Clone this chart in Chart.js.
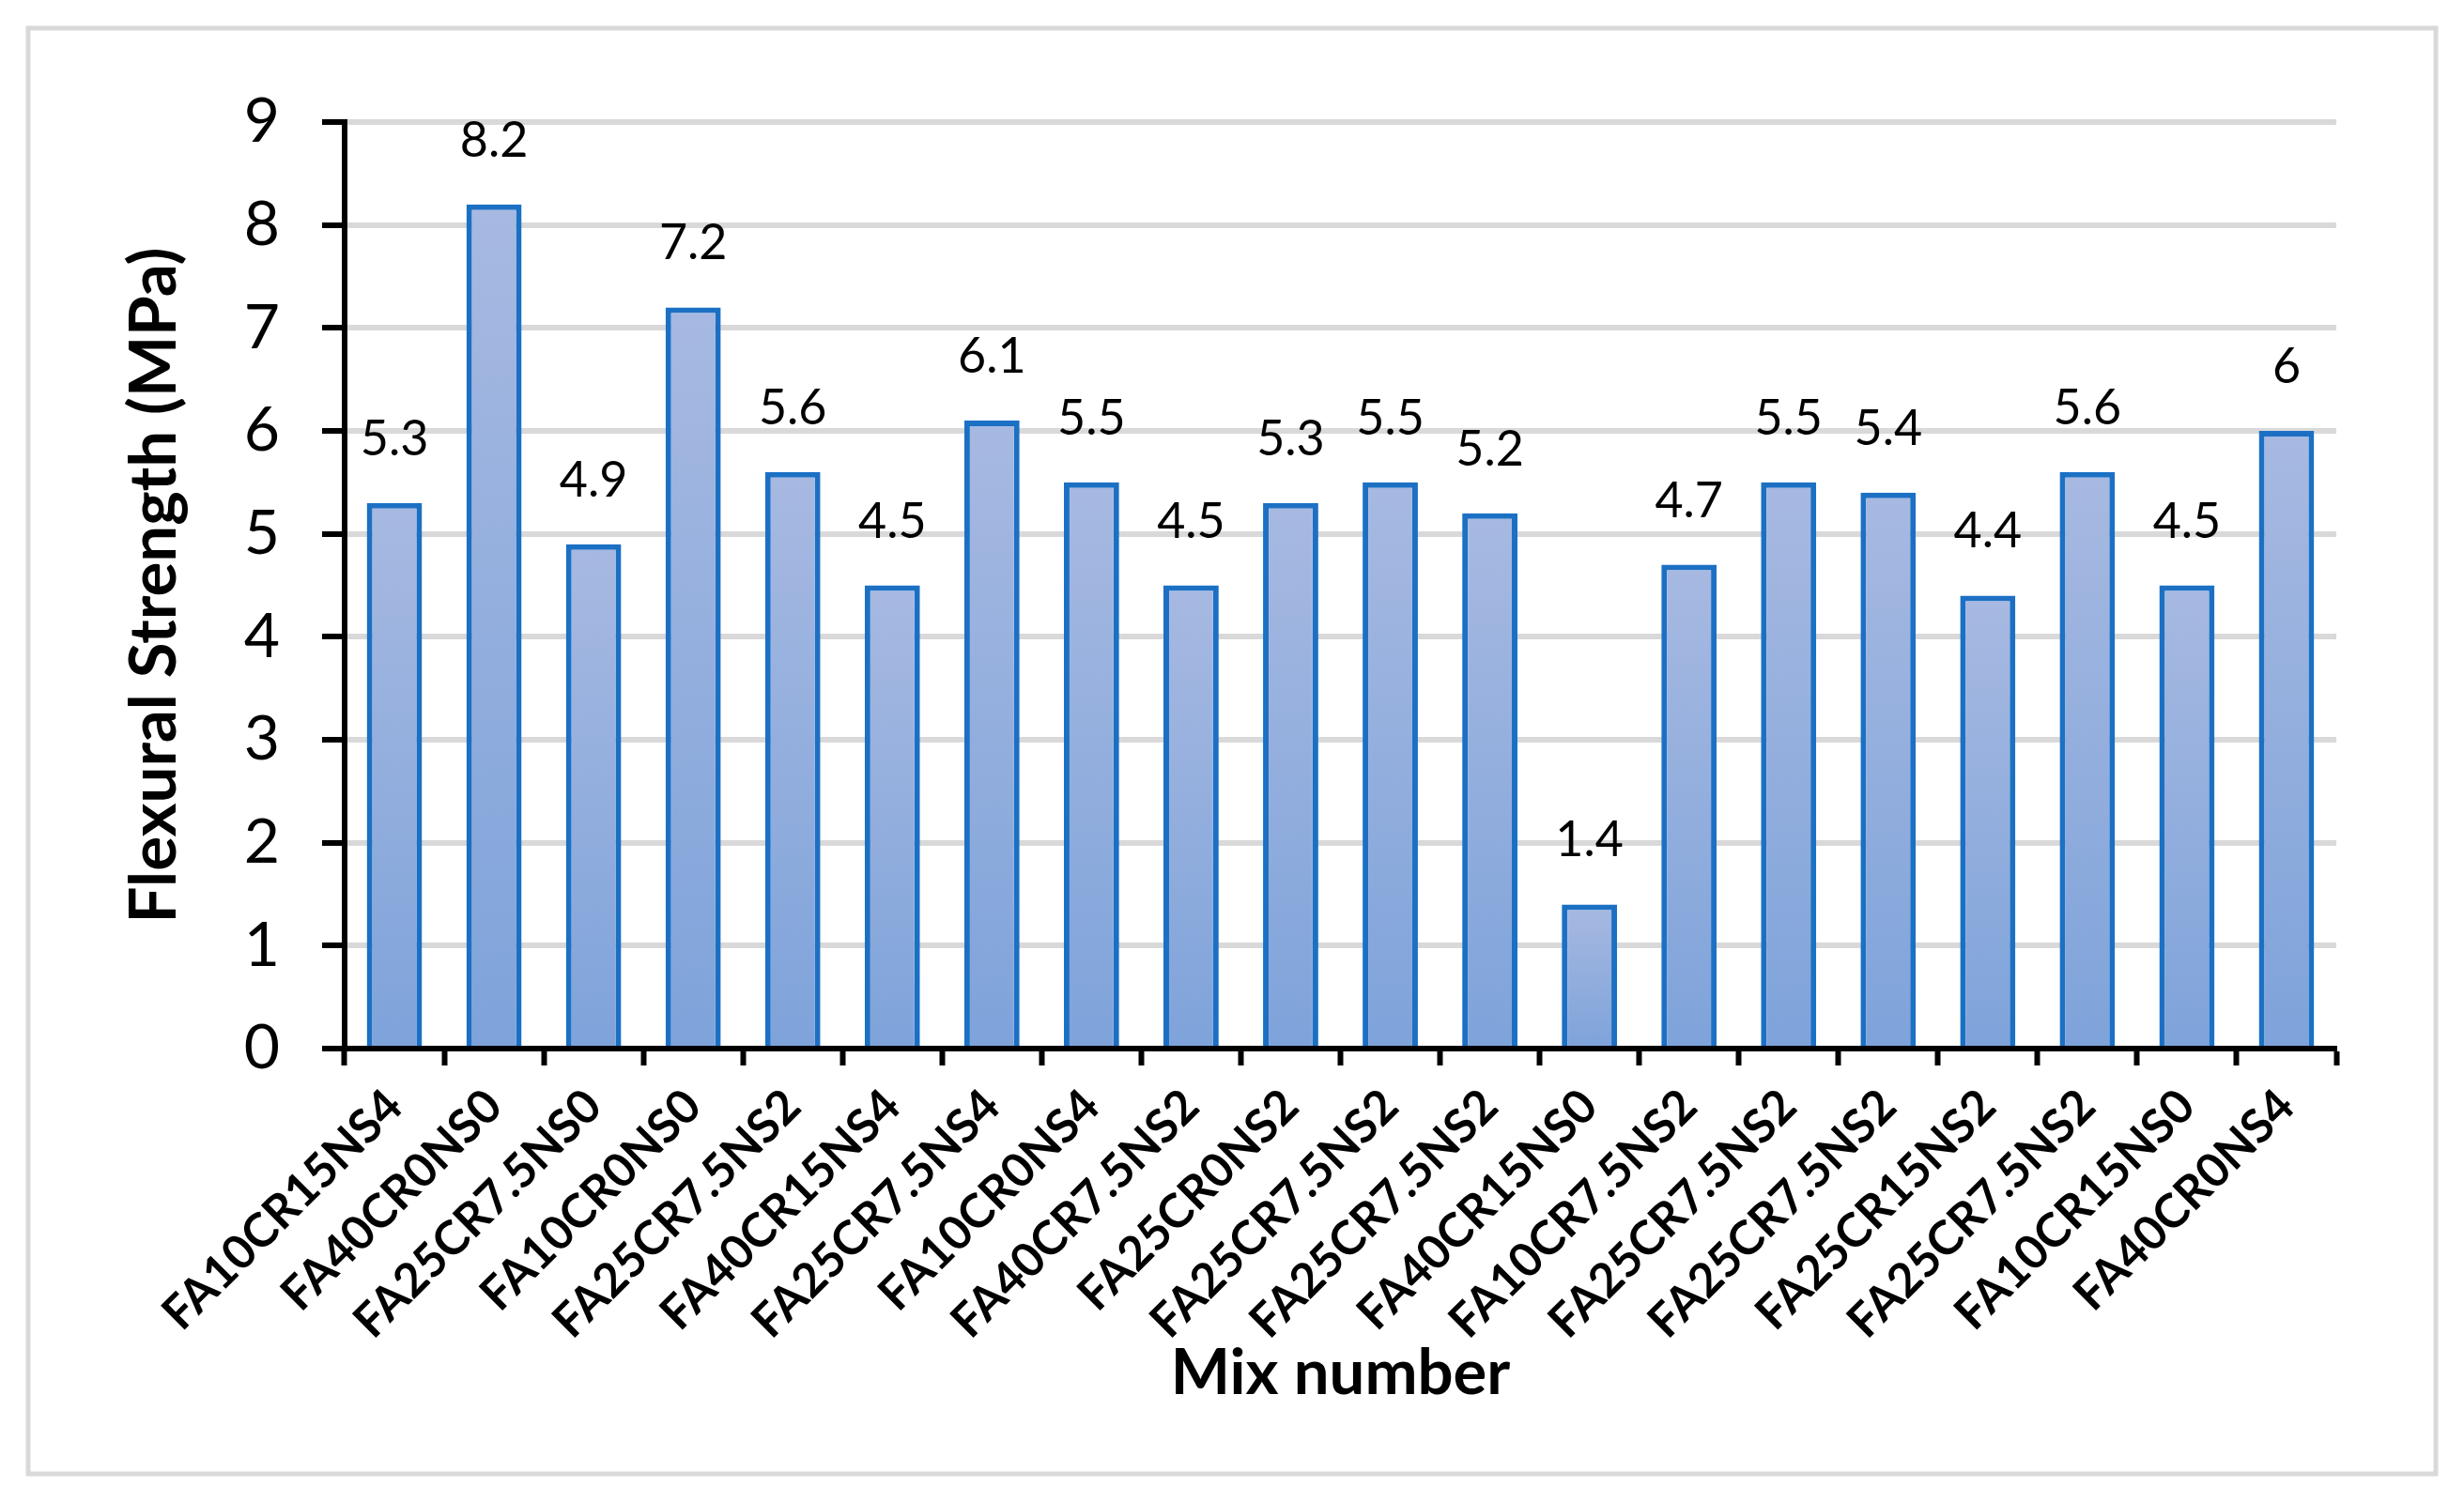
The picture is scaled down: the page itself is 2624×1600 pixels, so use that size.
<!DOCTYPE html>
<html>
<head>
<meta charset="utf-8">
<script src="https://cdn.jsdelivr.net/npm/chart.js@4.4.1/dist/chart.umd.min.js"></script>
<style>
  html, body { margin: 0; padding: 0; background: #fff; }
  #wrap { width: 2624px; height: 1600px; }
</style>
</head>
<body>
<div id="wrap"><canvas id="flexChart" width="2624" height="1600"></canvas></div>
<script>
// ── data ──
const mixLabels = [
  'FA10CR15NS4', 'FA40CR0NS0', 'FA25CR7.5NS0', 'FA10CR0NS0', 'FA25CR7.5NS2',
  'FA40CR15NS4', 'FA25CR7.5NS4', 'FA10CR0NS4', 'FA40CR7.5NS2', 'FA25CR0NS2',
  'FA25CR7.5NS2', 'FA25CR7.5NS2', 'FA40CR15NS0', 'FA10CR7.5NS2', 'FA25CR7.5NS2',
  'FA25CR7.5NS2', 'FA25CR15NS2', 'FA25CR7.5NS2', 'FA10CR15NS0', 'FA40CR0NS4'
];
const flexStrength = [5.3, 8.2, 4.9, 7.2, 5.6, 4.5, 6.1, 5.5, 4.5, 5.3, 5.5, 5.2, 1.4, 4.7, 5.5, 5.4, 4.4, 5.6, 4.5, 6];
const yTicks = [0, 1, 2, 3, 4, 5, 6, 7, 8, 9];

const BAR_TOP = '#a7b9e1';
const BAR_BOTTOM = '#7ea3da';
const BAR_EDGE = '#1c70c4';
const GRID = '#d9d9d9';
const FONT = "Lato, 'Open Sans', sans-serif";

// white page + light grey frame
const framePlugin = {
  id: 'frame',
  beforeDraw(chart) {
    const ctx = chart.ctx;
    ctx.save();
    ctx.fillStyle = '#fff';
    ctx.fillRect(0, 0, chart.width, chart.height);
    ctx.strokeStyle = GRID;
    ctx.lineWidth = 5;
    ctx.strokeRect(30, 30, 2564, 1540);
    ctx.restore();
  }
};

// value labels above bars
const valueLabels = {
  id: 'valueLabels',
  afterDatasetsDraw(chart) {
    const ctx = chart.ctx;
    const meta = chart.getDatasetMeta(0);
    ctx.save();
    ctx.font = `52px ${FONT}`;
    ctx.fillStyle = '#000';
    ctx.textAlign = 'center';
    ctx.textBaseline = 'alphabetic';
    meta.data.forEach((bar, i) => {
      ctx.fillText(String(flexStrength[i]), bar.x, bar.y - 51);
    });
    ctx.restore();
  }
};

function barGradient(c) {
  const chart = c.chart;
  const ys = chart.scales.y;
  if (c.type !== 'data' || !ys) return BAR_TOP;
  const top = ys.getPixelForValue(c.raw);
  const base = ys.getPixelForValue(0);
  if (!isFinite(top) || !isFinite(base) || top === base) return BAR_TOP;
  const g = chart.ctx.createLinearGradient(0, top, 0, base);
  g.addColorStop(0, BAR_TOP);
  g.addColorStop(1, BAR_BOTTOM);
  return g;
}

new Chart(document.getElementById('flexChart'), {
  type: 'bar',
  data: {
    labels: mixLabels,
    datasets: [{
      label: 'Flexural Strength',
      data: flexStrength,
      backgroundColor: barGradient,
      borderColor: BAR_EDGE,
      borderWidth: 6,
      borderSkipped: 'start',
      barPercentage: 0.555,
      categoryPercentage: 1.0,
    }]
  },
  options: {
    responsive: false,
    animation: false,
    devicePixelRatio: 1,
    layout: { padding: { left: 118, right: 136, top: 130, bottom: 96 } },
    plugins: {
      legend: { display: false },
      tooltip: { enabled: false }
    },
    scales: {
      x: {
        grid: { drawOnChartArea: false, offset: true, tickLength: 18, tickColor: '#000', tickWidth: 6 },
        border: { display: true, color: '#000', width: 6 },
        ticks: {
          color: '#000',
          autoSkip: false,
          maxRotation: 45,
          minRotation: 45,
          padding: 14,
          font: { family: FONT, size: 50, weight: 'bold' }
        },
        title: {
          display: true,
          text: 'Mix number',
          color: '#000',
          padding: { top: 0, bottom: 0 },
          font: { family: FONT, size: 67, weight: 'bold' }
        },
        afterFit(scale) { scale.height = 387; }
      },
      y: {
        min: 0,
        max: 9,
        afterBuildTicks(scale) { scale.ticks = yTicks.map(v => ({ value: v })); },
        grid: { color: GRID, lineWidth: 6, tickLength: 24, tickColor: '#000', tickWidth: 6 },
        border: { display: true, color: '#000', width: 6 },
        ticks: {
          color: '#000',
          padding: 45,
          font: { family: FONT, size: 66 }
        },
        title: {
          display: true,
          text: 'Flexural Strength (MPa)',
          color: '#000',
          padding: { top: 5, bottom: 0 },
          font: { family: FONT, size: 69, weight: 'bold' }
        },
        afterFit(scale) { scale.width = 249; }
      }
    }
  },
  plugins: [framePlugin, valueLabels]
});
</script>
</body>
</html>
